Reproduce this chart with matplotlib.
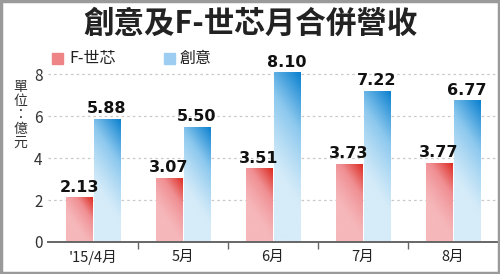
import numpy as np
import matplotlib
matplotlib.use("Agg")
from matplotlib import pyplot as plt
from matplotlib.colors import LinearSegmentedColormap
from matplotlib.patches import Rectangle

plt.rcParams['font.family'] = ['Noto Sans CJK TC', 'DejaVu Sans']

months = ["'15/4月", "5月", "6月", "7月", "8月"]
faraday = [2.13, 3.07, 3.51, 3.73, 3.77]
guc = [5.88, 5.50, 8.10, 7.22, 6.77]
series_names = ["F-世芯", "創意"]

red_cmap = LinearSegmentedColormap.from_list("r", ["#f6b8bb", "#f08f93", "#dc2a20"])
blue_cmap = LinearSegmentedColormap.from_list("b", ["#d6ecf9", "#8cc8ee", "#0a80cf"])


def gradient_fill(ax, bar, cmap):
	x0, y0 = bar.get_x(), bar.get_y()
	w, h = bar.get_width(), bar.get_height()
	# diagonal gradient: light bottom-left, dark top-right
	n = 64
	gx, gy = np.meshgrid(np.linspace(0, 1, n), np.linspace(0, 1, n))
	hpx = h / 8.3 * 174.0
	wpx = 26.0
	g = (gy * hpx + gx * wpx * 1.5)
	g = g / g.max()
	g = np.clip((g - 0.35) / 0.65, 0, 1) ** 1.2
	im = ax.imshow(g, cmap=cmap, extent=(x0, x0 + w, y0, y0 + h), origin="lower",
				   aspect="auto", interpolation="bicubic", zorder=2)
	im.set_clip_path(bar)
	bar.set_alpha(0)


fig = plt.figure(figsize=(5.0, 2.74), dpi=100)
ax = fig.add_axes([0.096, 0.117, 0.9, 0.635])

x = np.arange(len(months))
bw = 0.29
bars_r = ax.bar(x - bw / 2 - 0.01, faraday, bw, color="#e8686a", zorder=2)
bars_b = ax.bar(x + bw / 2 + 0.01, guc, bw, color="#5aaee6", zorder=2)

for b in bars_r:
	gradient_fill(ax, b, red_cmap)
for b in bars_b:
	gradient_fill(ax, b, blue_cmap)

for b, v in list(zip(bars_r, faraday)) + list(zip(bars_b, guc)):
	ax.text(b.get_x() + b.get_width() / 2, v + 0.12, "{:.2f}".format(v),
			ha="center", va="bottom", fontsize=11.5, fontweight="heavy",
			family="DejaVu Sans", color="#111111", zorder=3)

ax.set_xlim(-0.5, len(months) - 0.5)
ax.set_ylim(0, 8.3)
ax.set_yticks([0, 2, 4, 6, 8])
ax.tick_params(axis="y", length=0, labelsize=11, colors="#333333", pad=4)
for yv in [2, 4, 6, 8]:
	ax.axhline(yv, color="#c8c8c8", lw=0.9, ls=(0, (2, 2.5)), zorder=1)

ax.set_xticks(np.arange(len(months) - 1) + 0.5)
ax.set_xticklabels([])
ax.tick_params(axis="x", length=5, width=1, color="#666666", direction="out")
ax.set_xticks(x, minor=True)
ax.set_xticklabels(months, minor=True, fontsize=10.5, color="#222222")
ax.tick_params(axis="x", which="minor", length=0, pad=6)

for s in ["top", "right", "left"]:
	ax.spines[s].set_visible(False)
ax.spines["bottom"].set_color("#666666")
ax.spines["bottom"].set_linewidth(1.4)

# title
fig.text(0.5, 1 - 24 / 274, "創意及F-世芯月合併營收", ha="center", va="center",
		 fontsize=22, fontweight="bold", color="#222222")

# legend
fig.patches.append(Rectangle((52 / 500, 1 - 64 / 274), 11 / 500, 11 / 274,
							 transform=fig.transFigure, color="#ee8486"))
fig.text(69 / 500, 1 - 58 / 274, series_names[0], ha="left", va="center",
		 fontsize=11.5, color="#222222")
fig.patches.append(Rectangle((164 / 500, 1 - 64 / 274), 11 / 500, 11 / 274,
							 transform=fig.transFigure, color="#9dcdf0"))
fig.text(179 / 500, 1 - 58 / 274, series_names[1], ha="left", va="center",
		 fontsize=11.5, color="#222222")

# unit label, stacked vertically
for i, ch in enumerate("單位：億元"):
	fig.text(20 / 500, 1 - (87 + i * 14) / 274, ch, ha="center", va="center",
			 fontsize=10, color="#333333")

# gray frame
fig.patches.append(Rectangle((0.002, 0.002), 0.996, 0.993, transform=fig.transFigure,
							 fill=False, edgecolor="#9a9a9a", lw=2.5))

fig.savefig("out.png", dpi=100)
